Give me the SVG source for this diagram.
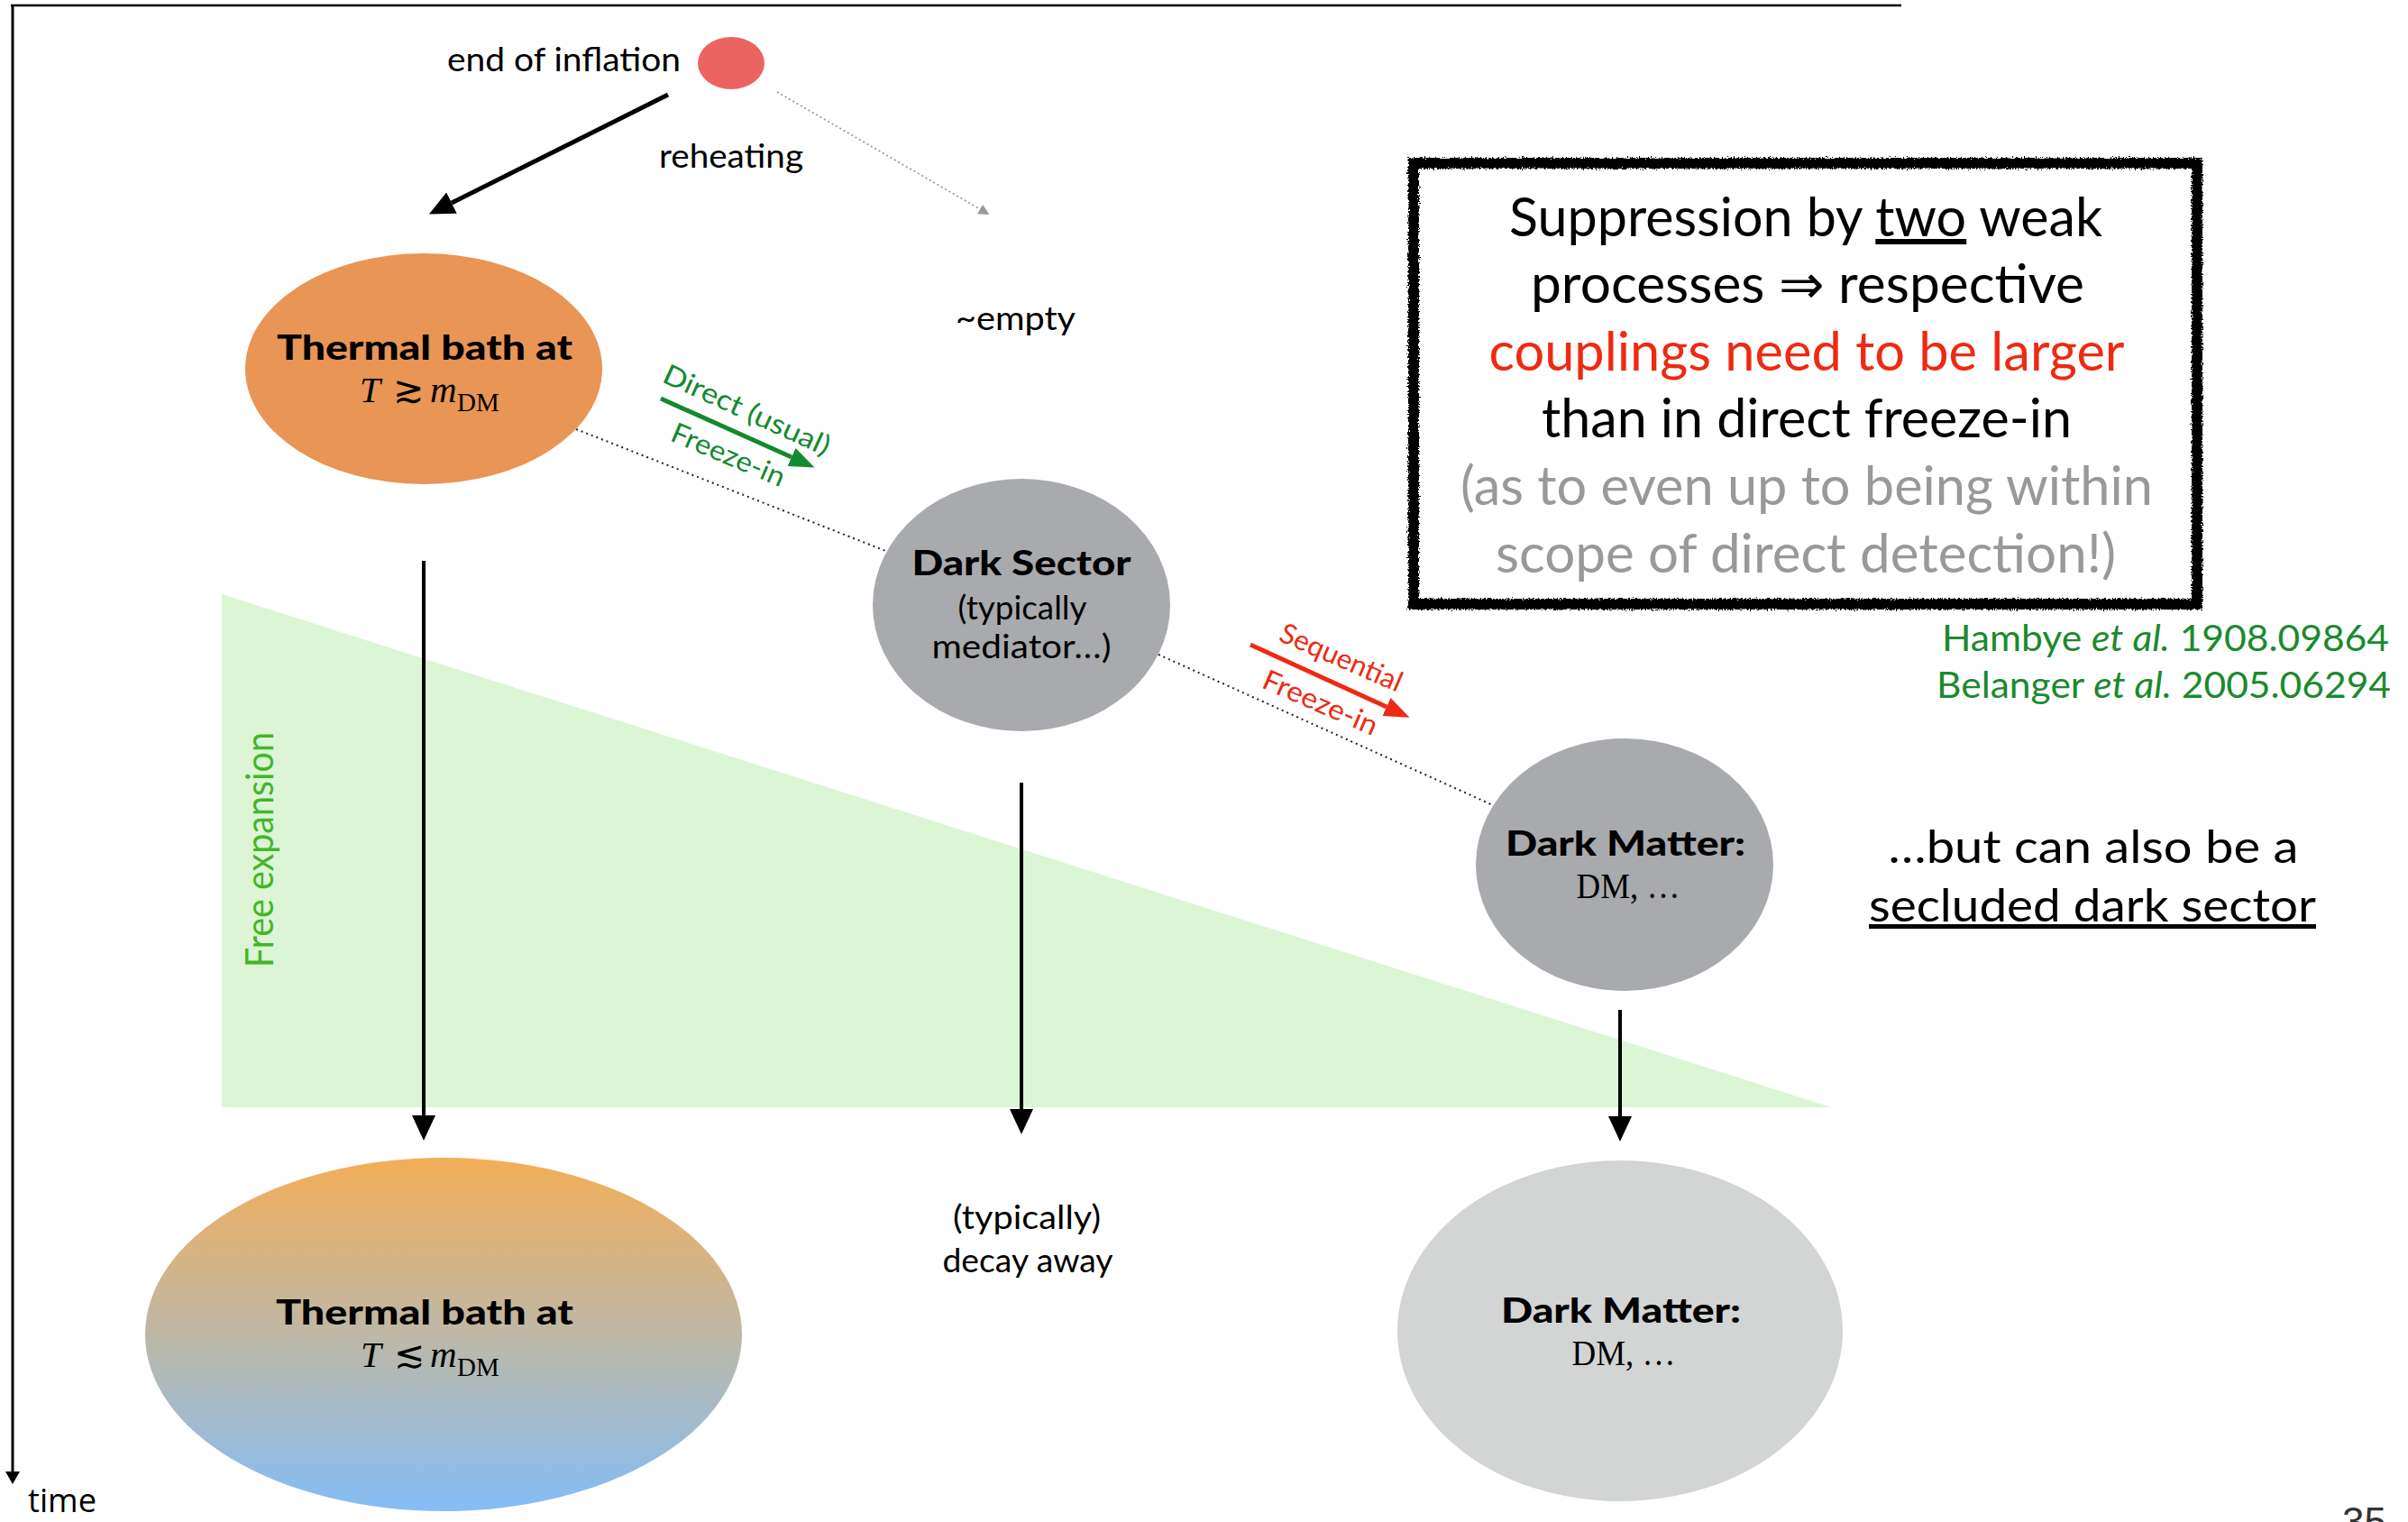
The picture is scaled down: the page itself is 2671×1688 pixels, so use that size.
<svg xmlns="http://www.w3.org/2000/svg" width="2671" height="1688" viewBox="0 0 2671 1688">
<style>
  .gs { font-family: Lato, "Open Sans", "DejaVu Sans", sans-serif; }
  .gsb { font-family: Lato, "Open Sans", "DejaVu Sans", sans-serif; font-weight: 900; }
  .math { font-family: "Liberation Serif", "DejaVu Serif", serif; }
  .lbl { font-size: 36px; fill: #000; }
  .title { font-size: 37px; fill: #000; }
  .sub { font-size: 36px; fill: #000; }
  .box { font-size: 60px; }
  .cite { font-size: 40px; fill: #1B8A2E; }
  .vline { stroke: #000; stroke-width: 4; fill: none; }
  .dots { stroke: #222; stroke-width: 2; stroke-dasharray: 2 4; fill: none; }
</style>
<defs>
  <marker id="headBlack" viewBox="0 -13 28 26" markerWidth="28" markerHeight="26" refX="0" refY="0" orient="auto" markerUnits="userSpaceOnUse">
    <path d="M0,-13 L28,0 L0,13 z" fill="#000"/>
  </marker>
  <marker id="headTime" viewBox="0 -8 14 16" markerWidth="14" markerHeight="16" refX="0" refY="0" orient="auto" markerUnits="userSpaceOnUse">
    <path d="M0,-8 L14,0 L0,8 z" fill="#000"/>
  </marker>
  <marker id="headGreen" viewBox="0 -11 28 22" markerWidth="28" markerHeight="22" refX="0" refY="0" orient="auto" markerUnits="userSpaceOnUse">
    <path d="M0,-11 L28,0 L0,11 z" fill="#128A2E"/>
  </marker>
  <marker id="headRed" viewBox="0 -11 28 22" markerWidth="28" markerHeight="22" refX="0" refY="0" orient="auto" markerUnits="userSpaceOnUse">
    <path d="M0,-11 L28,0 L0,11 z" fill="#EE2A12"/>
  </marker>
  <marker id="headGray" viewBox="0 -6 12 12" markerWidth="12" markerHeight="12" refX="0" refY="0" orient="auto" markerUnits="userSpaceOnUse">
    <path d="M0,-6 L12,0 L0,6 z" fill="#9A9A9A"/>
  </marker>
  <linearGradient id="bathGrad" x1="0" y1="0" x2="0" y2="1">
    <stop offset="0" stop-color="#F3AE58"/>
    <stop offset="0.5" stop-color="#BEB8A6"/>
    <stop offset="1" stop-color="#84BDF6"/>
  </linearGradient>
  <filter id="rough" x="-5%" y="-5%" width="110%" height="110%">
    <feTurbulence type="fractalNoise" baseFrequency="0.6" numOctaves="2" seed="3" result="n"/>
    <feDisplacementMap in="SourceGraphic" in2="n" scale="6" xChannelSelector="R" yChannelSelector="G"/>
  </filter>
</defs>

<rect x="0" y="0" width="2671" height="1688" fill="#fff"/>

<!-- frame / time axis -->
<g id="frame">
  <line x1="12" y1="6" x2="2109" y2="6" stroke="#000" stroke-width="2.5"/>
  <line x1="14" y1="5" x2="14" y2="1632" stroke="#000" stroke-width="3" marker-end="url(#headTime)"/>
  <text x="31" y="1677" font-family="'Open Sans', 'DejaVu Sans', sans-serif" font-size="36" textLength="76" lengthAdjust="spacingAndGlyphs">time</text>
</g>

<!-- free expansion region -->
<g id="free-expansion">
  <polygon points="246,659 246,1228 2031,1228" fill="#DBF5D5"/>
  <text class="gs" transform="translate(303,1073) rotate(-90)" font-size="42" fill="#45B52A" textLength="261" lengthAdjust="spacingAndGlyphs">Free expansion</text>
</g>

<!-- connectors -->
<g id="connectors">
  <line x1="741" y1="105" x2="501" y2="225" stroke="#000" stroke-width="5" marker-end="url(#headBlack)"/>
  <line x1="862" y1="102" x2="1087" y2="232" stroke="#9A9A9A" stroke-width="1.8" stroke-dasharray="2 3" marker-end="url(#headGray)"/>
  <line x1="639" y1="476" x2="985" y2="612" class="dots"/>
  <line x1="1274" y1="721" x2="1656" y2="893" class="dots"/>
  <line x1="733" y1="442" x2="878" y2="507" stroke="#128A2E" stroke-width="5" marker-end="url(#headGreen)"/>
  <line x1="1387" y1="715" x2="1538" y2="784" stroke="#EE2A12" stroke-width="5" marker-end="url(#headRed)"/>
  <line x1="470" y1="622" x2="470" y2="1237" class="vline" marker-end="url(#headBlack)"/>
  <line x1="1133" y1="868" x2="1133" y2="1230" class="vline" marker-end="url(#headBlack)"/>
  <line x1="1797" y1="1120" x2="1797" y2="1238" class="vline" marker-end="url(#headBlack)"/>
</g>

<!-- connector labels -->
<g id="connector-labels">
  <text class="gs lbl" x="496" y="79" textLength="259" lengthAdjust="spacingAndGlyphs">end of inflation</text>
  <text class="gs lbl" x="731" y="186" textLength="160" lengthAdjust="spacingAndGlyphs">reheating</text>
  <text class="gs" transform="translate(733,423) rotate(24.5)" font-size="31" fill="#128A2E" textLength="200" lengthAdjust="spacingAndGlyphs">Direct (usual)</text>
  <text class="gs" transform="translate(742,488) rotate(23)" font-size="31" fill="#128A2E" textLength="134" lengthAdjust="spacingAndGlyphs">Freeze-in</text>
  <text class="gs" transform="translate(1417,710) rotate(23.5)" font-size="31" fill="#EE2A12" textLength="145" lengthAdjust="spacingAndGlyphs">Sequential</text>
  <text class="gs" transform="translate(1398,762) rotate(23.5)" font-size="31" fill="#EE2A12" textLength="136" lengthAdjust="spacingAndGlyphs">Freeze-in</text>
  <text class="gs lbl" x="1139" y="1363" text-anchor="middle" textLength="164" lengthAdjust="spacingAndGlyphs">(typically)</text>
  <text class="gs lbl" x="1140" y="1411" text-anchor="middle" textLength="189" lengthAdjust="spacingAndGlyphs">decay away</text>
</g>

<!-- nodes -->
<g id="node-inflation">
  <ellipse cx="811" cy="70" rx="37" ry="29" fill="#EB6461"/>
</g>

<g id="node-empty">
  <text class="gs lbl" x="1060" y="366" textLength="133" lengthAdjust="spacingAndGlyphs">~empty</text>
</g>

<g id="node-thermal-hot">
  <ellipse cx="470" cy="409" rx="198" ry="128" fill="#E89556"/>
  <text class="gsb title" x="471" y="399" text-anchor="middle" textLength="328" lengthAdjust="spacingAndGlyphs">Thermal bath at</text>
  <text class="math" font-size="41" y="446"><tspan x="399" font-style="italic">T</tspan><tspan x="436">≳</tspan><tspan x="477" font-style="italic">m</tspan><tspan x="507" dy="10" font-size="29">DM</tspan></text>
</g>

<g id="node-dark-sector">
  <ellipse cx="1133" cy="671" rx="165" ry="140" fill="#A9AAAD"/>
  <text class="gsb title" x="1133" y="638" text-anchor="middle" textLength="243" lengthAdjust="spacingAndGlyphs">Dark Sector</text>
  <text class="gs sub" x="1134" y="687" text-anchor="middle" textLength="143" lengthAdjust="spacingAndGlyphs">(typically</text>
  <text class="gs sub" x="1133" y="730" text-anchor="middle" textLength="199" lengthAdjust="spacingAndGlyphs">mediator…)</text>
</g>

<g id="node-dm-early">
  <ellipse cx="1802" cy="959" rx="165" ry="140" fill="#A9AAAD"/>
  <text class="gsb title" x="1803" y="949" text-anchor="middle" textLength="266" lengthAdjust="spacingAndGlyphs">Dark Matter:</text>
  <text class="math" font-size="40" x="1806" y="996" text-anchor="middle" textLength="115" lengthAdjust="spacingAndGlyphs">DM, …</text>
</g>

<g id="node-thermal-cool">
  <ellipse cx="492" cy="1480" rx="331" ry="196" fill="url(#bathGrad)"/>
  <text class="gsb title" x="471" y="1469" text-anchor="middle" textLength="330" lengthAdjust="spacingAndGlyphs">Thermal bath at</text>
  <text class="math" font-size="41" y="1516"><tspan x="400" font-style="italic">T</tspan><tspan x="437">≲</tspan><tspan x="477" font-style="italic">m</tspan><tspan x="507" dy="10" font-size="29">DM</tspan></text>
</g>

<g id="node-dm-late">
  <ellipse cx="1797" cy="1476" rx="247" ry="189" fill="#D3D4D4"/>
  <text class="gsb title" x="1798" y="1467" text-anchor="middle" textLength="266" lengthAdjust="spacingAndGlyphs">Dark Matter:</text>
  <text class="math" font-size="40" x="1801" y="1514" text-anchor="middle" textLength="115" lengthAdjust="spacingAndGlyphs">DM, …</text>
</g>

<!-- annotation box -->
<g id="note-box">
  <rect x="1568" y="181" width="869" height="489" fill="none" stroke="#000" stroke-width="12" filter="url(#rough)"/>
  <text class="gs box" x="2003" y="262" text-anchor="middle" fill="#000" textLength="658" lengthAdjust="spacingAndGlyphs">Suppression by <tspan text-decoration="underline">two</tspan> weak</text>
  <text class="gs box" x="2005" y="336" text-anchor="middle" fill="#000" textLength="614" lengthAdjust="spacingAndGlyphs">processes ⇒ respective</text>
  <text class="gs box" x="2004" y="411" text-anchor="middle" fill="#EE2A12" textLength="705" lengthAdjust="spacingAndGlyphs">couplings need to be larger</text>
  <text class="gs box" x="2004" y="485" text-anchor="middle" fill="#000" textLength="588" lengthAdjust="spacingAndGlyphs">than in direct freeze-in</text>
  <text class="gs box" x="2004" y="560" text-anchor="middle" fill="#999999" textLength="768" lengthAdjust="spacingAndGlyphs">(as to even up to being within</text>
  <text class="gs box" x="2003" y="635" text-anchor="middle" fill="#999999" textLength="688" lengthAdjust="spacingAndGlyphs">scope of direct detection!)</text>
</g>

<g id="citations">
  <text class="gs cite" x="2650" y="722" text-anchor="end" textLength="496" lengthAdjust="spacingAndGlyphs">Hambye <tspan font-style="italic">et al.</tspan> 1908.09864</text>
  <text class="gs cite" x="2652" y="774" text-anchor="end" textLength="504" lengthAdjust="spacingAndGlyphs">Belanger <tspan font-style="italic">et al.</tspan> 2005.06294</text>
</g>

<g id="secluded-note">
  <text class="gs" x="2322" y="957" text-anchor="middle" font-size="50" fill="#000" textLength="455" lengthAdjust="spacingAndGlyphs">…but can also be a</text>
  <text class="gs" x="2321" y="1022" text-anchor="middle" font-size="50" fill="#000" text-decoration="underline" textLength="496" lengthAdjust="spacingAndGlyphs">secluded dark sector</text>
</g>

<text x="2647" y="1703" text-anchor="end" font-family="'Liberation Sans', Arial, sans-serif" font-size="44" fill="#333">35</text>
</svg>
